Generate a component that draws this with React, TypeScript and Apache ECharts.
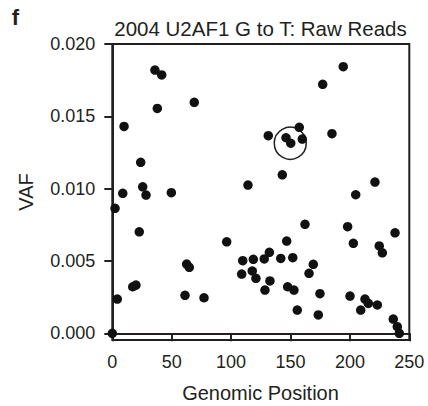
import React, { useEffect, useRef } from "react";
import * as echarts from "echarts";

const genomicPosition = [
  0, 2.3, 4.2, 9.9, 8.8, 17.2, 19.9, 22.7, 23.9, 25.6, 28.4, 35.9, 37.9, 41.6, 49.7,
  61.2, 62.6, 64.8, 69.0, 77.2, 96.3, 108.9, 109.8, 114.2, 117.8, 118.7, 120.9, 127.9,
  128.5, 131.3, 132.2, 132.7, 141.8, 143.1, 146.2, 146.8, 147.6, 150.2, 151.9, 152.9,
  155.7, 157.4, 159.9, 162.2, 165.6, 169.2, 173.4, 174.8, 177.1, 184.9, 194.4, 198.1,
  200.1, 202.9, 204.9, 209.1, 212.7, 215.5, 221.1, 223.1, 224.7, 227.3, 236.5, 238.0,
  239.9, 241.6,
];
const vaf = [
  0.0, 0.00864, 0.00237, 0.0143, 0.00968, 0.00322, 0.00334, 0.00702, 0.01182, 0.01013,
  0.00956, 0.0182, 0.01555, 0.01786, 0.00972, 0.00263, 0.00479, 0.00456, 0.01597, 0.00246,
  0.00633, 0.0041, 0.00502, 0.01025, 0.00431, 0.00512, 0.0038, 0.00514, 0.00299, 0.01366,
  0.0056, 0.00362, 0.00518, 0.01096, 0.01352, 0.00638, 0.00322, 0.01314, 0.00523, 0.00299,
  0.00161, 0.01424, 0.01343, 0.00754, 0.00415, 0.00477, 0.00127, 0.00274, 0.01721, 0.0138,
  0.01843, 0.00737, 0.00258, 0.00622, 0.00958, 0.00161, 0.00237, 0.00207, 0.01046, 0.00196,
  0.00604, 0.00557, 0.00099, 0.00695, 0.00046, 0.0,
];
const circledPosition = [149.8];
const circledVaf = [0.01314];
const xTicks = [0, 50, 100, 150, 200, 250];
const yTicks = [0, 0.005, 0.01, 0.015, 0.02];

const INK = "#231f20";
const DOT = "#111111";
const FONT = "Liberation Sans, Arial, sans-serif";

export default function App() {
  const ref = useRef<HTMLDivElement>(null);
  useEffect(() => {
    if (!ref.current) return;
    const chart = echarts.init(ref.current, undefined, { renderer: "svg" });
    const points = genomicPosition.map((x, i) => [x, vaf[i]]);
    const circled = circledPosition.map((x, i) => [x, circledVaf[i]]);
    chart.setOption({
      animation: false,
      backgroundColor: "#ffffff",
      grid: {
        left: 112.3,
        right: 18.7,
        top: 44,
        bottom: 66,
        show: true,
        borderColor: INK,
        borderWidth: 2,
        backgroundColor: "transparent",
      },
      xAxis: {
        type: "value",
        min: xTicks[0],
        max: xTicks[xTicks.length - 1],
        interval: 50,
        axisLine: { show: true, lineStyle: { color: INK, width: 2 } },
        axisTick: { show: true, length: 8, lineStyle: { color: INK, width: 2 } },
        axisLabel: { color: INK, fontSize: 18, fontFamily: FONT, margin: 13 },
        splitLine: { show: false },
      },
      yAxis: {
        type: "value",
        min: -0.00046,
        max: 0.02,
        axisLine: { show: true, lineStyle: { color: INK, width: 2 } },
        axisTick: {
          show: true,
          length: 8,
          customValues: yTicks,
          lineStyle: { color: INK, width: 2 },
        },
        axisLabel: {
          color: INK,
          fontSize: 18,
          fontFamily: FONT,
          margin: 17,
          customValues: yTicks,
          formatter: (v: number) => (v < -1e-9 ? "" : v.toFixed(3)),
        },
        splitLine: { show: false },
      },
      graphic: [
        {
          type: "text",
          x: 15.5,
          y: 17,
          style: {
            text: "f",
            fontSize: 22,
            fontWeight: "bold",
            fontFamily: FONT,
            fill: INK,
            textAlign: "center",
            textVerticalAlign: "middle",
          },
        },
        {
          type: "text",
          x: 260.5,
          y: 28,
          style: {
            text: "2004 U2AF1 G to T: Raw Reads",
            fontSize: 20.5,
            fontFamily: FONT,
            fill: INK,
            textAlign: "center",
            textVerticalAlign: "middle",
          },
        },
        {
          type: "text",
          x: 26,
          y: 192,
          rotation: Math.PI / 2,
          style: {
            text: "VAF",
            fontSize: 20,
            fontFamily: FONT,
            fill: INK,
            textAlign: "center",
            textVerticalAlign: "middle",
          },
        },
        {
          type: "text",
          x: 260.5,
          y: 393,
          style: {
            text: "Genomic Position",
            fontSize: 20,
            fontFamily: FONT,
            fill: INK,
            textAlign: "center",
            textVerticalAlign: "middle",
          },
        },
      ],
      series: [
        {
          type: "scatter",
          data: points,
          symbol: "circle",
          symbolSize: 9.5,
          itemStyle: { color: DOT, opacity: 1 },
          clip: false,
          z: 3,
        },
        {
          type: "scatter",
          data: circled,
          symbol: "circle",
          symbolSize: 32,
          itemStyle: { color: "transparent", borderColor: INK, borderWidth: 1.5, opacity: 1 },
          clip: false,
          z: 2,
        },
      ],
    });
    return () => chart.dispose();
  }, []);
  return <div ref={ref} style={{ width: 428, height: 406, position: "absolute", left: 0, top: 0 }} />;
}
